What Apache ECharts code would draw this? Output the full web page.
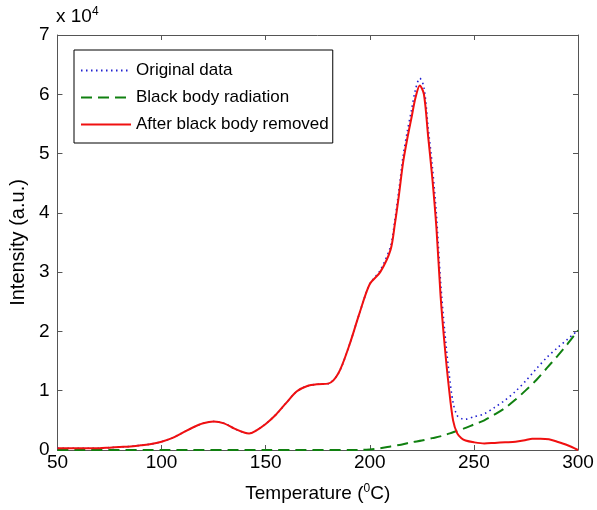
<!DOCTYPE html>
<html>
<head>
<meta charset="utf-8">
<script src="https://cdn.jsdelivr.net/npm/echarts@6/dist/echarts.min.js"></script>
<style>html,body{margin:0;padding:0;background:#fff}#c{width:597px;height:510px}</style>
</head>
<body>
<div id="c"></div>
<script>
// Values in units of 10^4
const redT = [50,55,60,65,70,75,80,85,90,95,100,105,110,115,120,125,130,135,140,142,145,150,155,160,165,170,175,180,185,190,195,200,205,210,212,214,216,218,220,222,224,226,228,230,232,234,236,238,240,242,244,246,250,255,260,265,270,275,278,282,286,290,295,300];
const redV = [0.03,0.03,0.03,0.03,0.03,0.04,0.05,0.06,0.08,0.10,0.14,0.20,0.29,0.38,0.45,0.48,0.45,0.36,0.29,0.28,0.32,0.44,0.60,0.80,0.99,1.08,1.11,1.12,1.30,1.75,2.30,2.80,3.00,3.38,3.80,4.30,4.85,5.25,5.60,5.95,6.15,6.00,5.30,4.60,3.75,2.60,1.75,1.05,0.50,0.28,0.20,0.16,0.13,0.11,0.12,0.13,0.14,0.17,0.19,0.19,0.18,0.14,0.08,0.00];
const blueT = [50,55,60,65,70,75,80,85,90,95,100,105,110,115,120,125,130,135,140,142,145,150,155,160,165,170,175,180,185,190,195,200,205,210,212,214,216,218,220,222,224,226,228,230,232,234,236,238,240,242,244,246,250,255,260,265,270,275,280,285,290,295,300];
const blueV = [0.03,0.03,0.03,0.03,0.03,0.04,0.05,0.06,0.08,0.10,0.14,0.20,0.29,0.38,0.45,0.48,0.45,0.36,0.29,0.28,0.32,0.44,0.60,0.80,0.99,1.08,1.11,1.12,1.30,1.75,2.30,2.80,3.03,3.44,3.87,4.39,4.96,5.37,5.73,6.09,6.27,6.12,5.45,4.80,3.97,2.84,2.00,1.32,0.80,0.58,0.53,0.52,0.56,0.61,0.72,0.84,0.99,1.17,1.37,1.56,1.72,1.87,2.02];
const greenT = [50,100,150,195,200,205,210,215,220,225,230,235,240,245,250,255,260,265,270,275,280,285,290,295,300];
const greenV = [0.0,0.0,0.0,0.0,0.01,0.03,0.06,0.09,0.13,0.16,0.20,0.24,0.30,0.36,0.43,0.50,0.60,0.71,0.85,1.01,1.18,1.38,1.58,1.79,2.02];
const seriesNames = ['Original data','Black body radiation','After black body removed'];
const xTicks = {min:50, max:300, interval:50};
const yTicks = {min:0, max:7, interval:1};

const zip = (a,b) => a.map((v,i)=>[v,b[i]]);
const font = 'Liberation Sans, Arial, sans-serif';
const chart = echarts.init(document.getElementById('c'), null, {renderer:'canvas'});
const axisCommon = {
  axisLine:{show:true, onZero:false, lineStyle:{color:'#555', width:1}},
  axisTick:{show:true, inside:true, length:5, lineStyle:{color:'#555'}},
  splitLine:{show:false}
};
chart.setOption({
  animation:false,
  backgroundColor:'#fff',
  grid:{left:57, right:19, top:35, bottom:60, containLabel:false},
  legend:{
    orient:'vertical', left:74, top:50,
    data:seriesNames,
    backgroundColor:'#fff', borderColor:'#000', borderWidth:1,
    padding:[12,4,10,6], itemGap:10, itemWidth:50, itemHeight:17,
    itemStyle:{opacity:0},
    textStyle:{fontFamily:font, fontSize:17, color:'#000'}
  },
  xAxis:[
    Object.assign({type:'value', position:'bottom', min:xTicks.min, max:xTicks.max, interval:xTicks.interval,
      name:'{a|Temperature (}{s|0}{a|C)}', nameLocation:'middle', nameGap:33,
      nameTextStyle:{rich:{a:{fontFamily:font, fontSize:19, color:'#000'}, s:{fontFamily:font, fontSize:12, color:'#000', verticalAlign:'top', padding:[0,0,9,0]}}},
      axisLabel:{fontFamily:font, fontSize:19, color:'#000', margin:3}}, axisCommon),
    Object.assign({type:'value', position:'top', min:xTicks.min, max:xTicks.max, interval:xTicks.interval,
      axisLabel:{show:false}}, axisCommon)
  ],
  yAxis:[
    Object.assign({type:'value', position:'left', min:yTicks.min, max:yTicks.max, interval:yTicks.interval,
      name:'Intensity (a.u.)', nameLocation:'middle', nameGap:24,
      nameTextStyle:{fontFamily:font, fontSize:20, color:'#000'},
      axisLabel:{fontFamily:font, fontSize:19, color:'#000', margin:8}}, axisCommon),
    Object.assign({type:'value', position:'right', min:yTicks.min, max:yTicks.max, interval:yTicks.interval,
      axisLabel:{show:false}}, axisCommon)
  ],
  graphic:[{
    type:'text', left:56, top:6,
    style:{text:'{a|x 10}{s|4}', rich:{a:{fontFamily:font, fontSize:19, fill:'#000'}, s:{fontFamily:font, fontSize:12, fill:'#000', verticalAlign:'top', padding:[0,0,9,0]}}}
  }],
  series:[
    {name:seriesNames[0], type:'line', data:zip(blueT,blueV), symbol:'none', smooth:0.3, z:3,
      lineStyle:{color:'#2020d0', width:1.6, type:[1.5,3.5]}, itemStyle:{color:'#2020d0'}},
    {name:seriesNames[1], type:'line', data:zip(greenT,greenV), symbol:'none', smooth:0.3, z:2,
      lineStyle:{color:'#108010', width:2, type:[11,6]}, itemStyle:{color:'#108010'}},
    {name:seriesNames[2], type:'line', data:zip(redT,redV), symbol:'none', smooth:0.3, z:4,
      lineStyle:{color:'#f01010', width:2}, itemStyle:{color:'#f01010'}}
  ]
});
</script>
</body>
</html>
